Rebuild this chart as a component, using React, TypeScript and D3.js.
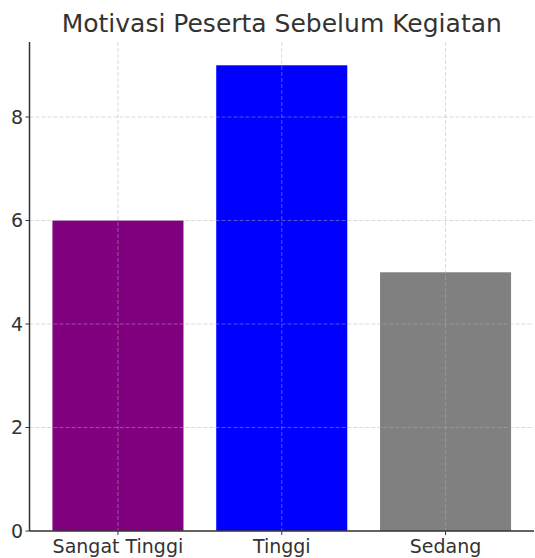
import React from "react";
import * as d3 from "d3";

const categories = ["Sangat Tinggi", "Tinggi", "Sedang"];
const values = [6, 9, 5];
const colors = ["#800080", "#0000ff", "#808080"];
const yTicks = [0, 2, 4, 6, 8];
const title = "Motivasi Peserta Sebelum Kegiatan";

export default function App() {
  const W = 535, H = 558;
  const left = 29.5, right = 534, top = 42, bottom = 531;
  const font = "DejaVu Sans, sans-serif";
  const x = d3.scaleLinear().domain([-0.54, 2.54]).range([left, right]);
  const y = d3.scaleLinear().domain([0, 9.45]).range([bottom, top]);
  const bw = x(0.4) - x(-0.4);
  return (
    <svg width={W} height={H} style={{ position: "absolute", left: 0, top: 0 }}>
      <rect width={W} height={H} fill="#fff" />
      {values.map((v, i) => (
        <rect key={i} x={x(i) - bw / 2} y={y(v)} width={bw} height={y(0) - y(v)} fill={colors[i]} />
      ))}
      {yTicks.map((t) => (
        <line key={"gy" + t} x1={left} x2={right} y1={y(t)} y2={y(t)} stroke="#b0b0b0" strokeOpacity={0.6} strokeDasharray="4,2" strokeWidth={0.8} />
      ))}
      {categories.map((c, i) => (
        <line key={"gx" + i} x1={x(i)} x2={x(i)} y1={top} y2={bottom} stroke="#b0b0b0" strokeOpacity={0.6} strokeDasharray="4,2" strokeWidth={0.8} />
      ))}
      <line x1={left} x2={left} y1={top} y2={bottom} stroke="#333" strokeWidth={1.5} />
      <line x1={left} x2={right} y1={bottom} y2={bottom} stroke="#333" strokeWidth={1.5} />
      {yTicks.map((t) => (
        <g key={"ty" + t}>
          <line x1={left - 4} x2={left} y1={y(t)} y2={y(t)} stroke="#333" strokeWidth={1} />
          <text x={left - 6.5} y={y(t)} dy="0.36em" textAnchor="end" fontFamily={font} fontSize={19} fill="#333">{t}</text>
        </g>
      ))}
      {categories.map((c, i) => (
        <g key={"tx" + i}>
          <line x1={x(i)} x2={x(i)} y1={bottom} y2={bottom + 4} stroke="#333" strokeWidth={1} />
          <text x={x(i)} y={553} textAnchor="middle" fontFamily={font} fontSize={19} fill="#333">{c}</text>
        </g>
      ))}
      <text x={(left + right) / 2} y={32} textAnchor="middle" fontFamily={font} fontSize={25} fill="#333">{title}</text>
    </svg>
  );
}
